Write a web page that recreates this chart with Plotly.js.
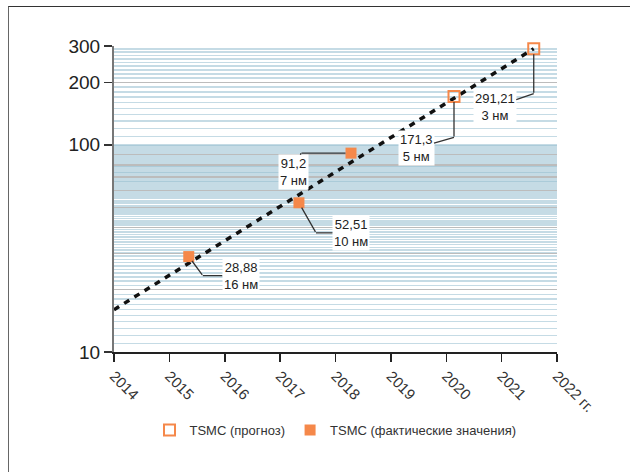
<!DOCTYPE html>
<html>
<head>
<meta charset="utf-8">
<script src="https://cdn.plot.ly/plotly-3.0.1.min.js"></script>
<style>
  html, body { margin: 0; padding: 0; background: #fff; }
  #wrap { position: relative; width: 630px; height: 472px; }
  #chart { position: absolute; left: 0; top: 0; width: 630px; height: 472px; }
  #frame { position: absolute; left: 8px; top: 6px; width: 622px; height: 466px;
           border-top: 1.5px solid #333; border-left: 1.5px solid #666;
           box-sizing: border-box; pointer-events: none; }
</style>
</head>
<body>
<div id="wrap"><div id="chart"></div><div id="frame"></div></div>
<script>
// ---- data ----
const yearTicks = [2014, 2015, 2016, 2017, 2018, 2019, 2020, 2021, 2022];
const yearTickText = ['2014', '2015', '2016', '2017', '2018', '2019', '2020', '2021', '2022 гг.'];
const yTickVals = [10, 100, 200, 300];
const yTickText = ['10', '100', '200', '300'];

const actualYears = [2015.35, 2017.34, 2018.28];
const actualValues = [28.88, 52.51, 91.2];
const actualNodes = ['16 нм', '10 нм', '7 нм'];

const forecastYears = [2020.14, 2021.58];
const forecastValues = [171.3, 291.21];
const forecastNodes = ['5 нм', '3 нм'];

const trendYears = [2014, 2021.58];
const trendValues = [16, 291.21];

const nameForecast = 'TSMC (прогноз)';
const nameActual = 'TSMC (фактические значения)';

// ---- styling ----
const orange = '#f5884a';
const yRange = [1, Math.log10(300)];

// decorative stripes: every integer 10..100, every 10 from 100..300
const stripeVals = [];
for (let v = 10; v <= 100; v++) stripeVals.push(v);
for (let v = 110; v <= 300; v += 10) stripeVals.push(v);
// grey log grid lines
const greyVals = [];
for (let v = 20; v <= 90; v += 10) greyVals.push(v);
greyVals.push(200, 300);

// connector offsets (pixels): elbow relative to point, box relative to elbow
const elbowDx = [14, 17, -50, 0, 0];
const elbowDy = [19, 30, 0, 41, 45];
const boxDx = [38, 35, -8, -38, -39];
const boxDy = [0, 0, 19, 11, 13];

const allYears = actualYears.concat(forecastYears);
const allValues = actualValues.concat(forecastValues);
const allNodes = actualNodes.concat(forecastNodes);

// invisible helper traces so the grid axes are created
const helper = (ax) => ({
  x: trendYears, y: trendValues, yaxis: ax, mode: 'lines', opacity: 0,
  line: { width: 0 }, showlegend: false, hoverinfo: 'skip'
});

const traces = [
  helper('y'),
  helper('y2'),
  {
    x: trendYears, y: trendValues, yaxis: 'y3', mode: 'lines', showlegend: false,
    line: { color: '#111', width: 3.5, dash: '6px,6px' }, hoverinfo: 'skip'
  },
  {
    x: forecastYears, y: forecastValues, yaxis: 'y3', mode: 'markers', name: nameForecast,
    cliponaxis: false,
    marker: { symbol: 'square-open', size: 11, color: orange, line: { color: orange, width: 2 } }
  },
  {
    x: actualYears, y: actualValues, yaxis: 'y3', mode: 'markers', name: nameActual,
    cliponaxis: false,
    marker: { symbol: 'square', size: 11, color: orange, line: { width: 0 } }
  }
];

const annotations = [];
allYears.forEach((yr, i) => {
  const ly = Math.log10(allValues[i]);
  annotations.push({
    x: yr, y: ly, xref: 'x', yref: 'y3', text: ' ', font: { size: 1 },
    showarrow: true, arrowhead: 0, arrowwidth: 1.3, arrowcolor: '#333',
    ax: elbowDx[i], ay: elbowDy[i], standoff: 5.5, borderpad: 0
  });
  annotations.push({
    x: yr, y: ly, xref: 'x', yref: 'y3',
    xshift: elbowDx[i], yshift: -elbowDy[i],
    text: String(allValues[i]).replace('.', ',') + '<br>' + allNodes[i],
    font: { size: 13, color: '#222', family: 'Liberation Sans, Arial, sans-serif' },
    align: 'center', bgcolor: '#ffffff', borderpad: 1,
    showarrow: true, arrowhead: 0, arrowwidth: 1.3, arrowcolor: '#333',
    ax: boxDx[i], ay: boxDy[i], standoff: 0
  });
});

const layout = {
  width: 630, height: 472,
  margin: { l: 114, r: 73, t: 46, b: 120 },
  paper_bgcolor: '#ffffff', plot_bgcolor: '#ffffff',
  font: { family: 'Liberation Sans, Arial, sans-serif', color: '#222' },
  showlegend: true,
  legend: {
    orientation: 'h', x: 0.5, xanchor: 'center', y: -0.255, yanchor: 'middle',
    font: { size: 13, color: '#333' }, itemwidth: 30
  },
  xaxis: {
    range: [2014, 2022], tickvals: yearTicks, ticktext: yearTickText, tickangle: 45,
    ticks: 'outside', ticklen: 8, tickwidth: 1.5, tickcolor: '#222',
    showline: true, linecolor: '#222', linewidth: 1.5, showgrid: false, zeroline: false,
    tickfont: { size: 15, color: '#333' }
  },
  yaxis: {
    type: 'log', range: yRange, tickvals: stripeVals, showticklabels: false, ticks: '',
    gridcolor: 'rgba(150,190,207,0.55)', gridwidth: 1.5, showline: false, zeroline: false
  },
  yaxis2: {
    type: 'log', range: yRange, overlaying: 'y', tickvals: greyVals, showticklabels: false, ticks: '',
    gridcolor: '#bcbcbc', gridwidth: 1.2, showline: false, zeroline: false
  },
  yaxis3: {
    type: 'log', range: yRange, overlaying: 'y', tickvals: yTickVals, ticktext: yTickText,
    ticks: 'outside', ticklen: 8, tickwidth: 1.5, tickcolor: '#333',
    showline: true, linecolor: '#777', linewidth: 2, showgrid: false, zeroline: false,
    tickfont: { size: 19, color: '#222' }
  },
  annotations: annotations
};

Plotly.newPlot('chart', traces, layout, { displayModeBar: false, staticPlot: true });
</script>
</body>
</html>
